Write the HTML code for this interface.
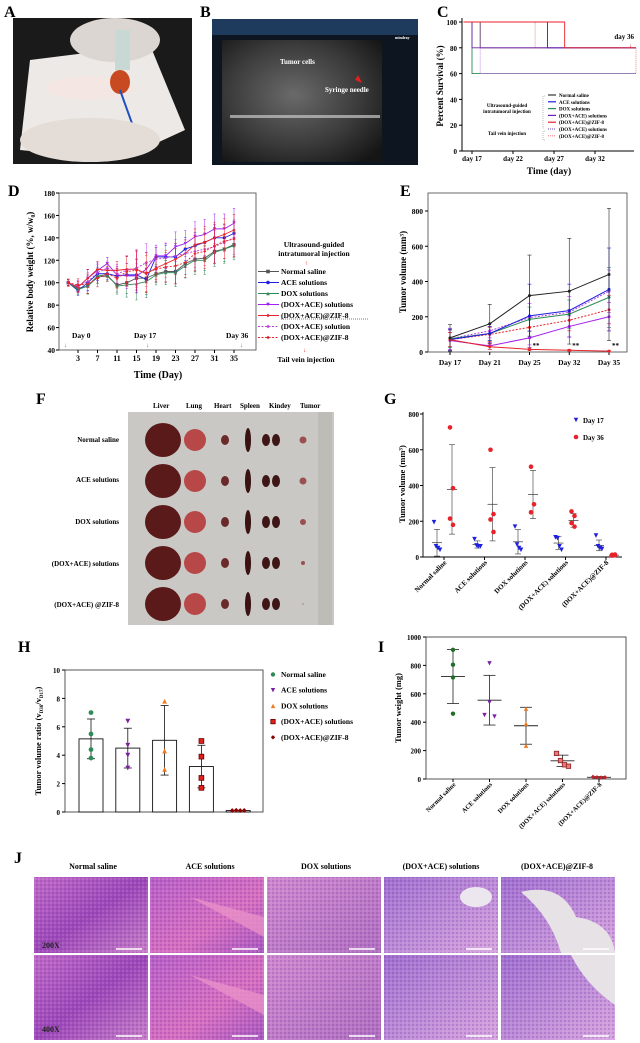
<!DOCTYPE html>
<html><head><meta charset="utf-8"><style>
html,body{margin:0;padding:0;background:#fff;}
svg{display:block;font-family:"Liberation Serif",serif;font-weight:bold;}
</style></head><body>
<svg id="fig" width="640" height="1043" viewBox="0 0 640 1043" xmlns="http://www.w3.org/2000/svg">
<defs>
<radialGradient id="usg" cx="0.45" cy="0.45" r="0.7"><stop offset="0" stop-color="#6a6a6a"/><stop offset="0.6" stop-color="#3a3a3a"/><stop offset="1" stop-color="#151515"/></radialGradient>
<linearGradient id="he1" x1="0" y1="0" x2="1" y2="1"><stop offset="0" stop-color="#c06ac8"/><stop offset="0.5" stop-color="#9c48b8"/><stop offset="1" stop-color="#c880c8"/></linearGradient>
<linearGradient id="he2" x1="0" y1="0" x2="1" y2="1"><stop offset="0" stop-color="#b860c8"/><stop offset="0.6" stop-color="#d870c0"/><stop offset="1" stop-color="#a858c0"/></linearGradient>
<linearGradient id="he3" x1="0" y1="0" x2="1" y2="1"><stop offset="0" stop-color="#d08ad0"/><stop offset="1" stop-color="#b070c0"/></linearGradient>
<linearGradient id="he4" x1="0" y1="0" x2="1" y2="1"><stop offset="0" stop-color="#a070d0"/><stop offset="1" stop-color="#d8a8e0"/></linearGradient>
<pattern id="dots" width="4" height="4" patternUnits="userSpaceOnUse"><circle cx="1" cy="1" r="0.8" fill="#6a2a9a" opacity="0.5"/><circle cx="3" cy="3" r="0.6" fill="#f0c0f0" opacity="0.5"/></pattern>
</defs>

<!-- Panel A photo -->
<g>
<text x="4" y="17" font-size="16">A</text>
<rect x="13" y="18" width="179" height="146" fill="#1a1a1a"/>
<polygon points="30,60 150,45 185,130 120,160 20,150" fill="#ece9e6"/>
<ellipse cx="115" cy="40" rx="45" ry="22" fill="#dcd6d2"/>
<ellipse cx="90" cy="88" rx="45" ry="12" fill="#f3e6e3"/>
<ellipse cx="120" cy="82" rx="10" ry="12" fill="#c84a20"/>
<rect x="115" y="30" width="15" height="40" fill="#c8d8d4"/>
<line x1="120" y1="90" x2="138" y2="140" stroke="#2050c0" stroke-width="2"/>
<ellipse cx="90" cy="140" rx="70" ry="22" fill="#e4dcd6"/>
</g>

<!-- Panel B ultrasound -->
<g>
<text x="200" y="17" font-size="16">B</text>
<rect x="212" y="19" width="206" height="146" fill="#0d1520"/>
<rect x="212" y="19" width="206" height="16" fill="#1e3a5c"/>
<rect x="222" y="40" width="160" height="122" fill="url(#usg)"/>
<rect x="230" y="115" width="150" height="3" fill="#c8c8c8" opacity="0.7"/>
<text x="280" y="64" font-size="7" fill="#fff">Tumor cells</text>
<text x="325" y="92" font-size="7" fill="#fff">Syringe needle</text>
<path d="M358 75 L362 83 L355 80 Z" fill="#e02020"/>
<text x="395" y="39" font-size="4" fill="#fff">mindray</text>
</g>

<!-- Panel F photo -->
<g>
<text x="36" y="404" font-size="16">F</text>
<rect x="128" y="412" width="206" height="213" fill="#c9c8c4"/>
<rect x="318" y="412" width="14" height="213" fill="#bdbcb6"/>
<text font-size="7" y="408"><tspan x="153">Liver</tspan><tspan x="186">Lung</tspan><tspan x="214">Heart</tspan><tspan x="240">Spleen</tspan><tspan x="269">Kindey</tspan><tspan x="300">Tumor</tspan></text>
<g font-size="7" text-anchor="end">
<text x="119" y="442">Normal saline</text><text x="119" y="482">ACE solutions</text><text x="119" y="524">DOX solutions</text><text x="119" y="566">(DOX+ACE) solutions</text><text x="119" y="607">(DOX+ACE) @ZIF-8</text>
</g>
<g id="organs"></g>
</g>

<!-- Panel J histology -->
<g>
<text x="14" y="863" font-size="16">J</text>
<g font-size="8" text-anchor="middle">
<text x="93" y="869">Normal saline</text><text x="210" y="869">ACE solutions</text><text x="326" y="869">DOX solutions</text><text x="441" y="869">(DOX+ACE) solutions</text><text x="557" y="869">(DOX+ACE)@ZIF-8</text>
</g>
<g id="tiles"></g>
</g>

<g id="charts"></g>
</svg>
<script>
var NS="http://www.w3.org/2000/svg";
function mk(tag,attrs,parent){var e=document.createElementNS(NS,tag);for(var k in attrs)e.setAttribute(k,attrs[k]);(parent||document.getElementById('charts')).appendChild(e);return e;}
function tx(str,attrs,parent){var e=mk('text',attrs,parent);e.textContent=str;return e;}

// ===== Panel C data =====
var cTicks=[0,20,40,60,80,100];
var cDayTicks=[17,22,27,32];
var cNSDays=[16,18,37], cNSVals=[100,80,80];
var cACEDays=[16,26.2,37], cACEVals=[100,80,80];
var cDOXDays=[16,17,37], cDOXVals=[100,60,60];
var cDASDays=[16,17,37], cDASVals=[100,80,80];
var cZIFDays=[16,28.3,37], cZIFVals=[100,80,80];
var cDASdDays=[16,18,37], cDASdVals=[100,60,60];
var cZIFdDays=[16,24.7,37], cZIFdVals=[100,80,60];
// ===== Panel D data =====
var dDays=[1,3,5,7,9,11,13,15,17,19,21,23,25,27,29,31,33,35];
var dYTicks=[40,60,80,100,120,140,160,180];
var dXTicks=[3,7,11,15,19,23,27,31,35];
var dNS=[100,95,97,105,106,98,100,104,104,108,110,110,117,121,122,128,130,134];
var dACE=[100,93,100,108,108,106,107,107,103,123,123,123,130,133,136,140,140,144];
var dDOX=[100,94,97,106,107,97,98,99,101,107,109,109,115,120,120,127,130,133];
var dDAS=[100,96,104,111,117,107,106,106,112,124,124,132,135,141,143,148,148,153];
var dZIF=[100,96,104,112,111,111,112,112,108,113,117,121,126,134,136,140,143,147];
var dDASd=[100,97,101,109,113,108,111,113,118,121,122,124,126,128,130,132,136,140];
var dZIFd=[100,98,99,104,108,104,110,111,109,112,114,115,118,126,128,133,137,139];
var dErr=[3,5,8,7,6,8,12,16,16,10,12,14,12,14,14,14,14,14];
// ===== Panel E data =====
var eCats=['Day 17','Day 21','Day 25','Day 32','Day 35'];
var eYTicks=[0,200,400,600,800];
var eNS=[80,160,320,345,440], eNSerr=[75,110,230,300,375];
var eACE=[70,105,205,235,355], eACEerr=[60,40,180,150,235];
var eDOX=[75,105,185,215,310], eDOXerr=[50,40,70,80,170];
var eDAS=[65,35,80,145,200], eDASerr=[60,20,40,60,80];
var eZIF=[70,30,15,10,5], eZIFerr=[40,15,8,5,3];
var eDASd=[75,120,195,225,345], eDASderr=[60,40,80,90,120];
var eZIFd=[70,100,140,180,240], eZIFderr=[40,40,60,60,80];
// ===== Panel G data =====
var gCats=['Normal saline','ACE solutions','DOX solutions','(DOX+ACE) solutions','(DOX+ACE)@ZIF-8'];
var gYTicks=[0,200,400,600,800];
var g17=[[195,60,50,40],[100,65,60,60],[170,70,50,40],[110,105,60,40],[120,60,50,45]];
var g17mean=[80,70,85,78,65], g17sd=[75,20,68,35,30];
var g36=[[725,385,215,180],[600,240,210,140],[505,295,250],[255,230,190,170],[12,10,8,14]];
var g36mean=[378,295,350,205,10], g36sd=[250,205,135,38,3];
// ===== Panel H data =====
var hCats=['Normal saline','ACE solutions','DOX solutions','(DOX+ACE) solutions','(DOX+ACE)@ZIF-8'];
var hYTicks=[0,2,4,6,8,10];
var hMean=[5.15,4.5,5.05,3.2,0.1], hSd=[1.4,1.4,2.45,1.5,0.05];
var hPts=[[7.0,5.5,4.4,3.8],[6.4,4.7,4.0,3.1],[7.8,4.3,3.0],[5.0,3.9,2.4,1.7],[0.1,0.12,0.1,0.11]];
// ===== Panel I data =====
var iCats=['Normal saline','ACE solutions','DOX solutions','(DOX+ACE) solutions','(DOX+ACE)@ZIF-8'];
var iYTicks=[0,200,400,600,800,1000];
var iMean=[722,555,375,128,12], iSd=[190,175,130,40,5];
var iPts=[[910,805,715,460],[815,540,450,440],[495,390,235],[180,130,100,90],[15,12,10,12]];

var C={ns:'#4a4a4a',ace:'#1f1fe0',dox:'#2e8b57',das:'#a020f0',zif:'#e8222a'};

function marker(p,type,x,y,s,col,stroke){
  var e;
  if(type==='circle')e=mk('circle',{cx:x,cy:y,r:s,fill:col},p);
  else if(type==='square')e=mk('rect',{x:x-s,y:y-s,width:2*s,height:2*s,fill:col,stroke:stroke||'none','stroke-width':0.8},p);
  else if(type==='up')e=mk('polygon',{points:(x-s)+','+(y+s)+' '+(x+s)+','+(y+s)+' '+x+','+(y-s),fill:col},p);
  else if(type==='down')e=mk('polygon',{points:(x-s)+','+(y-s)+' '+(x+s)+','+(y-s)+' '+x+','+(y+s),fill:col},p);
  else e=mk('polygon',{points:x+','+(y-s)+' '+(x+s)+','+y+' '+x+','+(y+s)+' '+(x-s)+','+y,fill:col},p);
  return e;
}
function ebar(p,x,y1,y2,w,col,sw){
  mk('line',{x1:x,y1:y1,x2:x,y2:y2,stroke:col,'stroke-width':sw||0.7},p);
  mk('line',{x1:x-w,y1:y1,x2:x+w,y2:y1,stroke:col,'stroke-width':sw||0.7},p);
  mk('line',{x1:x-w,y1:y2,x2:x+w,y2:y2,stroke:col,'stroke-width':sw||0.7},p);
}

// ---------- Panel C ----------
(function(){
  var g=mk('g',{});
  
  
  var X=function(d){return 472+(d-17)*8.2;}, Y=function(v){return 151-v*1.29;};
  tx('C',{x:437,y:17,'font-size':16},g);
  mk('line',{x1:462,y1:18,x2:462,y2:151,stroke:'#000','stroke-width':1},g);
  mk('line',{x1:462,y1:151,x2:634,y2:151,stroke:'#000','stroke-width':1},g);
  cTicks.forEach(function(t){mk('line',{x1:459,y1:Y(t),x2:462,y2:Y(t),stroke:'#000'},g);var l=tx(String(t),{x:457,y:Y(t)+3,'font-size':7,'text-anchor':'end'},g);});
  cDayTicks.forEach(function(d){mk('line',{x1:X(d),y1:151,x2:X(d),y2:154,stroke:'#000'},g);var l=tx('day '+d,{x:X(d),y:161,'font-size':7,'text-anchor':'middle'},g);});
  var yt=tx('Percent Survival (%)',{x:0,y:0,'font-size':9,'text-anchor':'middle',transform:'translate(443,86) rotate(-90)'},g);
  
  
  var xt=tx('Time (day)',{x:549,y:174,'font-size':9.5,'text-anchor':'middle'},g);
  
  
  function step(days,vals,col,dash,nm){
    var d='M'+X(days[0])+' '+Y(vals[0]);
    for(var i=1;i<days.length;i++){d+=' L'+X(days[i])+' '+Y(vals[i-1])+' L'+X(days[i])+' '+Y(vals[i]);}
    var e=mk('path',{d:d,fill:'none',stroke:col,'stroke-width':0.9,'stroke-dasharray':dash||'none'},g);
    
    
  }
  step(cDOXDays,cDOXVals,C.dox,null,'c-line-dox');
  step(cZIFdDays,cZIFdVals,'#f08080','1,1','c-line-zif-tail');
  step(cDASdDays,cDASdVals,'#c080e0','1,1','c-line-das-tail');
  step(cNSDays,cNSVals,'#6a4a6a',null,'c-line-normal-saline');
  step(cACEDays,cACEVals,C.ace,null,'c-line-ace');
  step(cDASDays,cDASVals,'#7020b0',null,'c-line-das');
  step(cZIFDays,cZIFVals,C.zif,null,'c-line-zif');
  var dl=tx('day 36',{x:634,y:39,'font-size':7,'text-anchor':'end'},g);
  
  
  tx('↓',{x:632,y:47,'font-size':6,fill:C.zif,'text-anchor':'end'},g);
  var names=['Normal saline','ACE solutions','DOX solutions','(DOX+ACE) solutions','(DOX+ACE)@ZIF-8','(DOX+ACE) solutions','(DOX+ACE)@ZIF-8'];
  var cols=['#333',C.ace,C.dox,'#7020b0',C.zif,'#8060c0','#f08080'];
  names.forEach(function(n,i){var y=97+i*6.8;
    var ln=mk('line',{x1:548,y1:y-2,x2:556,y2:y-2,stroke:cols[i],'stroke-width':1.2,'stroke-dasharray':i>4?'1,1':'none'},g);
    
    
    var t=tx(n,{x:559,y:y,'font-size':5},g);
    
    });
  mk('path',{d:'M545 96 L543 96 L543 128 L545 128 M545 131 L543 131 L543 140 L545 140',fill:'none',stroke:'#888','stroke-width':0.6,'stroke-dasharray':'1,1'},g);
  tx('Ultrasound-guided',{x:507,y:107,'font-size':5,'text-anchor':'middle'},g);
  tx('intratumoral injection',{x:507,y:113,'font-size':5,'text-anchor':'middle'},g);
  tx('Tail vein injection',{x:507,y:135,'font-size':5,'text-anchor':'middle'},g);
})();

// ---------- Panel D ----------
(function(){
  var g=mk('g',{});
  
  
  var X=function(d){return 78+(d-3)*4.875;}, Y=function(v){return 350-(v-40)*157/140;};
  tx('D',{x:8,y:196,'font-size':16},g);
  mk('rect',{x:59,y:193,width:197,height:157,fill:'none',stroke:'#444','stroke-width':0.8},g);
  dYTicks.forEach(function(t){mk('line',{x1:56,y1:Y(t),x2:59,y2:Y(t),stroke:'#000'},g);var l=tx(String(t),{x:55,y:Y(t)+3,'font-size':7.5,'text-anchor':'end'},g);});
  dXTicks.forEach(function(t){mk('line',{x1:X(t),y1:350,x2:X(t),y2:353,stroke:'#000'},g);var l=tx(String(t),{x:X(t),y:361,'font-size':8,'text-anchor':'middle'},g);});
  var yt=tx('Relative body weight (%, w/w\u2080)',{x:0,y:0,'font-size':9,'text-anchor':'middle',transform:'translate(33,272) rotate(-90)'},g);
  
  
  var xt=tx('Time (Day)',{x:158,y:378,'font-size':10,'text-anchor':'middle'},g);
  
  
  var series=[[dNS,'#555','square',null,'d-series-normal-saline'],[dACE,C.ace,'circle',null,'d-series-ace'],[dDOX,C.dox,'up',null,'d-series-dox'],[dDAS,C.das,'down',null,'d-series-dox-ace'],[dZIF,C.zif,'diamond',null,'d-series-zif8'],[dDASd,'#c040e0','left','2,1.5','d-series-dox-ace-tail'],[dZIFd,C.zif,'right','2,1.5','d-series-zif8-tail']];
  series.forEach(function(s,si){
    var sg=mk('g',{},g);
    
    
    var col=s[1];
    s[0].forEach(function(v,i){ebar(sg,X(dDays[i]),Y(v+dErr[i]*(0.8+si*0.05)),Y(v-dErr[i]*(0.8+si*0.05)),1.2,col,0.5);});
    var pts=s[0].map(function(v,i){return X(dDays[i])+','+Y(v);}).join(' ');
    mk('polyline',{points:pts,fill:'none',stroke:col,'stroke-width':0.9,'stroke-dasharray':s[3]||'none'},sg);
    s[0].forEach(function(v,i){var t=s[2];if(t==='left'||t==='right')t='diamond';marker(sg,t,X(dDays[i]),Y(v),1.6,col);});
  });
  tx('Day 0',{x:72,y:338,'font-size':7.5},g);tx('↓',{x:64,y:347,'font-size':6,fill:C.zif},g);
  tx('Day 17',{x:134,y:338,'font-size':7.5},g);tx('↓',{x:146,y:347,'font-size':6,fill:C.zif},g);
  tx('Day 36',{x:226,y:338,'font-size':7.5},g);tx('↓',{x:240,y:347,'font-size':6,fill:C.zif},g);
  tx('Ultrasound-guided',{x:314,y:247,'font-size':7.5,'text-anchor':'middle'},g);
  tx('intratumoral injection',{x:314,y:256,'font-size':7.5,'text-anchor':'middle'},g);
  tx('↑',{x:305,y:265,'font-size':6,fill:C.zif},g);
  var names=['Normal saline','ACE solutions','DOX solutions','(DOX+ACE) solutions','(DOX+ACE)@ZIF-8','(DOX+ACE) solution','(DOX+ACE)@ZIF-8'];
  var cols=['#555',C.ace,C.dox,C.das,C.zif,'#c040e0',C.zif];
  var mks=['square','circle','up','down','diamond','diamond','diamond'];
  names.forEach(function(n,i){var y=274+i*11;
    var ln=mk('line',{x1:258,y1:y-2.5,x2:279,y2:y-2.5,stroke:cols[i],'stroke-width':1,'stroke-dasharray':i>4?'2,1.5':'none'},g);
    
    
    marker(g,mks[i],268,y-2.5,1.8,cols[i]);
    var t=tx(n,{x:281,y:y,'font-size':7.5},g);
    
    });
  mk('line',{x1:281,y1:319,x2:368,y2:319,stroke:'#000','stroke-width':0.6,'stroke-dasharray':'1,1'},g);
  tx('↓',{x:303,y:352,'font-size':6,fill:C.zif},g);
  tx('Tail vein injection',{x:306,y:362,'font-size':7.5,'text-anchor':'middle'},g);
})();

// ---------- Panel E ----------
(function(){
  var g=mk('g',{});
  
  
  var X=function(i){return 450+i*39.75;}, Y=function(v){return 352-v*0.17625;};
  tx('E',{x:400,y:196,'font-size':16},g);
  mk('rect',{x:428,y:193,width:199,height:159,fill:'none',stroke:'#444','stroke-width':0.8},g);
  eYTicks.forEach(function(t){mk('line',{x1:425,y1:Y(t),x2:428,y2:Y(t),stroke:'#000'},g);var l=tx(String(t),{x:423,y:Y(t)+3,'font-size':7.5,'text-anchor':'end'},g);});
  eCats.forEach(function(c,i){mk('line',{x1:X(i),y1:352,x2:X(i),y2:355,stroke:'#000'},g);var l=tx(c,{x:X(i),y:365,'font-size':7.5,'text-anchor':'middle'},g);});
  var yt=tx('Tumor volume (mm\u00b3)',{x:0,y:0,'font-size':9,'text-anchor':'middle',transform:'translate(406,272) rotate(-90)'},g);
  
  
  var series=[[eZIFd,eZIFderr,C.zif,'2,1.5','e-series-zif8-tail'],[eDASd,eDASderr,'#b040e0','2,1.5','e-series-dox-ace-tail'],[eDOX,eDOXerr,C.dox,null,'e-series-dox'],[eACE,eACEerr,C.ace,null,'e-series-ace'],[eDAS,eDASerr,C.das,null,'e-series-dox-ace'],[eZIF,eZIFerr,C.zif,null,'e-series-zif8'],[eNS,eNSerr,'#222',null,'e-series-normal-saline']];
  series.forEach(function(s){
    var sg=mk('g',{},g);
    
    
    s[0].forEach(function(v,i){ebar(sg,X(i),Y(v+s[1][i]),Y(Math.max(0,v-s[1][i])),2,s[2],0.6);});
    mk('polyline',{points:s[0].map(function(v,i){return X(i)+','+Y(v);}).join(' '),fill:'none',stroke:s[2],'stroke-width':1,'stroke-dasharray':s[3]||'none'},sg);
    s[0].forEach(function(v,i){marker(sg,'circle',X(i),Y(v),1.5,s[2]);});
  });
  [2,3,4].forEach(function(i){tx('**',{x:X(i)+3,y:348,'font-size':7},g);});
})();

// ---------- Panel G ----------
(function(){
  var g=mk('g',{});
  
  
  var Y=function(v){return 557-v*0.17875;};
  var X=function(i){return 444+i*40.5;};
  tx('G',{x:384,y:404,'font-size':16},g);
  mk('line',{x1:423,y1:412,x2:423,y2:557,stroke:'#000','stroke-width':0.9},g);
  mk('line',{x1:423,y1:557,x2:622,y2:557,stroke:'#000','stroke-width':0.9},g);
  gYTicks.forEach(function(t){mk('line',{x1:420,y1:Y(t),x2:423,y2:Y(t),stroke:'#000'},g);var l=tx(String(t),{x:419,y:Y(t)+3,'font-size':7,'text-anchor':'end'},g);});
  var yt=tx('Tumor volume (mm\u00b3)',{x:0,y:0,'font-size':8.5,'text-anchor':'middle',transform:'translate(405,484) rotate(-90)'},g);
  
  
  gCats.forEach(function(c,i){var x=X(i);
    mk('line',{x1:x,y1:557,x2:x,y2:560,stroke:'#000'},g);
    var l=tx(c,{x:0,y:0,'font-size':7,'text-anchor':'end',transform:'translate('+(x+3)+',563) rotate(-45)'},g);
    
    
    var a=x-7,b=x+8;
    ebar(g,a,Y(g17mean[i]+g17sd[i]),Y(Math.max(0,g17mean[i]-g17sd[i])),3,'#333',0.6);
    mk('line',{x1:a-5,y1:Y(g17mean[i]),x2:a+5,y2:Y(g17mean[i]),stroke:'#333','stroke-width':0.7},g);
    g17[i].forEach(function(v,j){var m=marker(g,'down',a-3+j*2,Y(v),2.3,C.ace);});
    ebar(g,b,Y(g36mean[i]+g36sd[i]),Y(Math.max(0,g36mean[i]-g36sd[i])),3,'#333',0.6);
    mk('line',{x1:b-5,y1:Y(g36mean[i]),x2:b+5,y2:Y(g36mean[i]),stroke:'#333','stroke-width':0.7},g);
    g36[i].forEach(function(v,j){var m=marker(g,'circle',b-2+(j%2)*3,Y(v),2.3,C.zif);});
  });
  marker(g,'down',576,420,2.2,C.ace);
  var l1=tx('Day 17',{x:583,y:423,'font-size':7},g);
  
  
  marker(g,'circle',576,437,2.3,C.zif);
  var l2=tx('Day 36',{x:583,y:440,'font-size':7},g);
  
  
})();

// ---------- Panel H ----------
(function(){
  var g=mk('g',{});
  
  
  var Y=function(v){return 812-v*14.2;};
  var X=function(i){return 91+i*36.8;};
  tx('H',{x:18,y:652,'font-size':16},g);
  mk('rect',{x:65,y:670,width:198,height:142,fill:'none',stroke:'#444','stroke-width':0.9},g);
  hYTicks.forEach(function(t){mk('line',{x1:62,y1:Y(t),x2:65,y2:Y(t),stroke:'#000'},g);var l=tx(String(t),{x:60,y:Y(t)+3,'font-size':7,'text-anchor':'end'},g);});
  var yt=tx('Tumor volume ratio (v',{x:0,y:0,'font-size':8.5,'text-anchor':'middle',transform:'translate(41,741) rotate(-90)'},g);
  
  
  var ts=mk('tspan',{'font-size':5,dy:2},yt);ts.textContent='D36';
  var t2=mk('tspan',{dy:-2},yt);t2.textContent='/v';
  var t3=mk('tspan',{'font-size':5,dy:2},yt);t3.textContent='D17';
  var t4=mk('tspan',{dy:-2},yt);t4.textContent=')';
  var cols=[C.dox,'#7a1fa2','#f07a20','#e0201a','#8b0000'];
  var mks=['circle','down','up','square','diamond'];
  hCats.forEach(function(c,i){var x=X(i);
    var bar=mk('rect',{x:x-12,y:Y(hMean[i]),width:24,height:812-Y(hMean[i]),fill:'#fff',stroke:'#111','stroke-width':0.9},g);
    
    
    if(i<4)ebar(g,x,Y(hMean[i]+hSd[i]),Y(hMean[i]-hSd[i]),4,'#111',0.8);
    hPts[i].forEach(function(v,j){var px=i===4?x-6+j*4:x;var m=marker(g,mks[i],px,Y(v),2.4,cols[i],i===3?'#600':null);});
  });
  var names=['Normal saline','ACE solutions','DOX solutions','(DOX+ACE) solutions','(DOX+ACE)@ZIF-8'];
  names.forEach(function(n,i){var y=677+i*15.7;
    marker(g,mks[i],273,y-2.5,2.2,cols[i],i===3?'#600':null);
    var t=tx(n,{x:281,y:y,'font-size':7.5},g);
    
    });
})();

// ---------- Panel I ----------
(function(){
  var g=mk('g',{});
  
  
  var Y=function(v){return 779-v*0.142;};
  var X=function(i){return 453+i*36.5;};
  tx('I',{x:378,y:652,'font-size':16},g);
  mk('rect',{x:426,y:637,width:200,height:142,fill:'none',stroke:'#444','stroke-width':0.9},g);
  iYTicks.forEach(function(t){mk('line',{x1:423,y1:Y(t),x2:426,y2:Y(t),stroke:'#000'},g);var l=tx(String(t),{x:421,y:Y(t)+3,'font-size':7,'text-anchor':'end'},g);});
  var yt=tx('Tumor weight (mg)',{x:0,y:0,'font-size':8.5,'text-anchor':'middle',transform:'translate(401,708) rotate(-90)'},g);
  
  
  var cols=['#1f6e2a','#7a1fa2','#f07a20','#e87a7a','#c0202a'];
  var mks=['circle','down','up','square','diamond'];
  iCats.forEach(function(c,i){var x=X(i);
    mk('line',{x1:x,y1:779,x2:x,y2:782,stroke:'#000'},g);
    var l=tx(c,{x:0,y:0,'font-size':6.5,'text-anchor':'end',transform:'translate('+(x+3)+',785) rotate(-45)'},g);
    
    
    ebar(g,x,Y(iMean[i]+iSd[i]),Y(Math.max(0,iMean[i]-iSd[i])),6,'#222',0.8);
    mk('line',{x1:x-12,y1:Y(iMean[i]),x2:x+12,y2:Y(iMean[i]),stroke:'#222','stroke-width':0.9},g);
    iPts[i].forEach(function(v,j){var dx=[0,0,0,0][j];if(i===1)dx=[0,0,-5,5][j];if(i>=3)dx=-6+j*4;var m=marker(g,mks[i],x+dx,Y(v),2.2,cols[i],i===3?'#8a2020':null);});
  });
})();

// ---------- Organs in panel F ----------
(function(){
  var p=document.getElementById('organs');
  var rows=[440,481,522,563,604];
  var tumorR=[3.5,3.5,3,2,0.6];
  rows.forEach(function(y,i){
    mk('ellipse',{cx:163,cy:y,rx:18,ry:17,fill:'#5a1a1a'},p);
    mk('ellipse',{cx:195,cy:y,rx:11,ry:11,fill:'#b84848'},p);
    mk('ellipse',{cx:225,cy:y,rx:4,ry:5,fill:'#6a2a2a'},p);
    mk('ellipse',{cx:248,cy:y,rx:3,ry:12,fill:'#3a1212'},p);
    mk('ellipse',{cx:266,cy:y,rx:4,ry:6,fill:'#3f1616'},p);
    mk('ellipse',{cx:276,cy:y,rx:4,ry:6,fill:'#3f1616'},p);
    mk('circle',{cx:303,cy:y,r:tumorR[i],fill:'#9a5050'},p);
  });
})();

// ---------- Histology tiles ----------
(function(){
  var p=document.getElementById('tiles');
  var xs=[34,150,267,384,501], ys=[877,955];
  var fills=['url(#he1)','url(#he2)','url(#he3)','url(#he4)','url(#he4)'];
  ys.forEach(function(y,r){xs.forEach(function(x,c){
    var t=mk('rect',{x:x,y:y,width:114,height:r?85:76,fill:fills[c]},p);
    
    
    mk('rect',{x:x,y:y,width:114,height:r?85:76,fill:'url(#dots)'},p);
    if(c===4){mk('path',{d:r?('M'+(x+70)+' '+y+' L'+(x+114)+' '+y+' L'+(x+114)+' '+(y+50)+' Q'+(x+85)+' '+(y+30)+' '+(x+70)+' '+y+' Z'):('M'+(x+20)+' '+(y+15)+' Q'+(x+60)+' '+(y+5)+' '+(x+75)+' '+(y+40)+' Q'+(x+110)+' '+(y+45)+' '+(x+114)+' '+(y+76)+' L'+(x+60)+' '+(y+76)+' Q'+(x+50)+' '+(y+40)+' '+(x+20)+' '+(y+15)+' Z'),fill:'#e6e2e6'},p);}
    if(c===3&&r===0){mk('ellipse',{cx:x+92,cy:y+20,rx:16,ry:10,fill:'#ece6ee'},p);}
    if(c===1){mk('path',{d:'M'+(x+40)+' '+(y+20)+' L'+(x+114)+' '+(y+40)+' L'+(x+114)+' '+(y+60)+' Z',fill:'#e890c8',opacity:0.8},p);}
    mk('line',{x1:x+82,y1:y+(r?81:72),x2:x+108,y2:y+(r?81:72),stroke:'#fff','stroke-width':1.5},p);
  });});
  tx('200X',{x:42,y:948,'font-size':8,fill:'#222'},p);
  tx('400X',{x:42,y:1032,'font-size':8,fill:'#222'},p);
})();
</script>
</body></html>
